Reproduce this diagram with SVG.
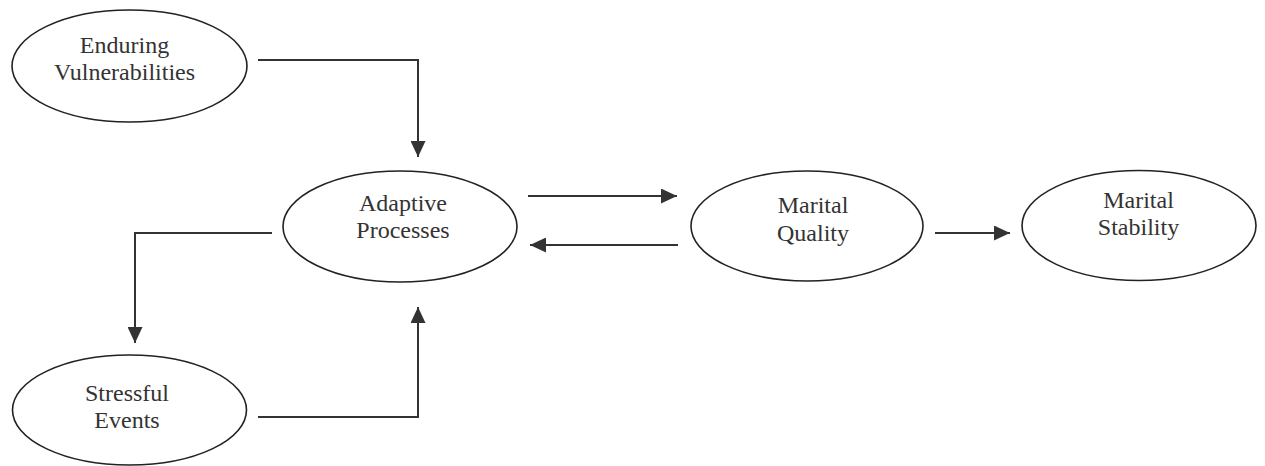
<svg xmlns="http://www.w3.org/2000/svg" width="1265" height="466" viewBox="0 0 1265 466">
<style>
.node ellipse{fill:#fff;stroke:#222;stroke-width:1.6}
.node text{font-family:"Liberation Serif","Times New Roman",serif;font-size:24px;fill:#333;text-anchor:middle}
.edge{fill:none;stroke:#333;stroke-width:2;marker-end:url(#ah)}
</style>
<defs>
<marker id="ah" markerUnits="userSpaceOnUse" markerWidth="16" markerHeight="15" refX="16" refY="7.5" orient="auto">
<path d="M0,0 L16,7.5 L0,15 z" fill="#333"/>
</marker>
</defs>
<rect width="1265" height="466" fill="#fff"/>
<g id="connectors">
<path class="edge" d="M258,60 H418 V157"/>
<path class="edge" d="M528,196 H677"/>
<path class="edge" d="M678,245 H530"/>
<path class="edge" d="M935,233 H1010"/>
<path class="edge" d="M272,233 H135 V343"/>
<path class="edge" d="M258,417 H418 V307"/>
</g>
<g id="enduring" class="node">
<ellipse cx="129.5" cy="66" rx="117.5" ry="56"/>
<text x="124.5" y="53">Enduring</text>
<text x="124.5" y="80">Vulnerabilities</text>
</g>
<g id="adaptive" class="node">
<ellipse cx="400" cy="226.5" rx="117" ry="55.5"/>
<text x="403" y="211">Adaptive</text>
<text x="403" y="238">Processes</text>
</g>
<g id="quality" class="node">
<ellipse cx="807" cy="226" rx="116" ry="55"/>
<text x="813" y="213">Marital</text>
<text x="813" y="240.5">Quality</text>
</g>
<g id="stability" class="node">
<ellipse cx="1139" cy="225.5" rx="117" ry="55"/>
<text x="1138.5" y="208">Marital</text>
<text x="1138.5" y="235">Stability</text>
</g>
<g id="stressful" class="node">
<ellipse cx="129.5" cy="410" rx="117" ry="55"/>
<text x="127" y="401">Stressful</text>
<text x="127" y="428">Events</text>
</g>
</svg>
